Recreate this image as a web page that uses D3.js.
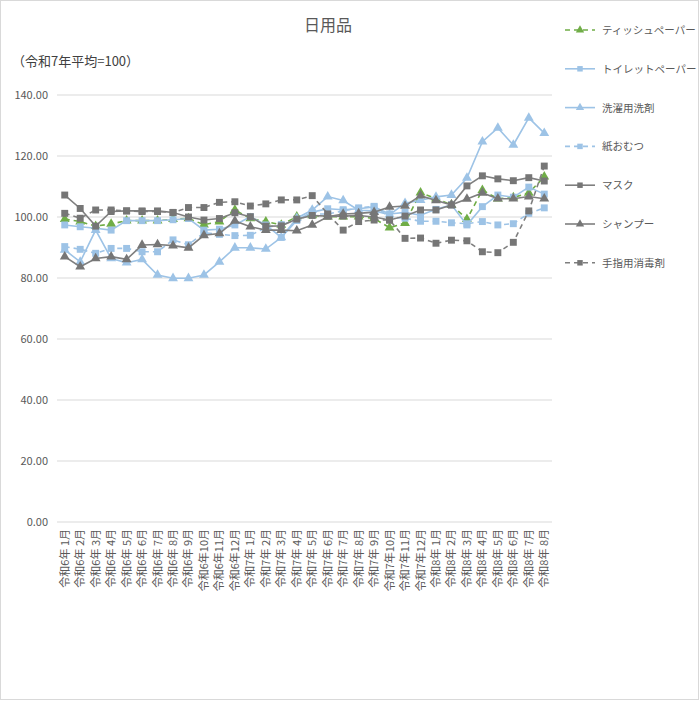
<!DOCTYPE html>
<html><head><meta charset="utf-8">
<script src="https://cdn.jsdelivr.net/npm/d3@7"></script>
<style>body{margin:0;background:#fff;font-family:"Noto Sans CJK JP","Noto Sans",sans-serif;}</style>
</head><body><div id="chart"></div>
<script>
const months = [];
[[6, 12], [7, 12], [8, 8]].forEach(([y, n]) => {
	for (let m = 1; m <= n; m++) months.push('令和' + y + '年' + (m < 10 ? ' ' : '') + m + '月');
});

const tissue = [99.3, 98.5, 97, 97.7, 98.8, 98.8, 98.8, 99.3, 99.5, 97.5, 98.5, 102.3, 99.5, 98.5, 97.4, 100.1, 100.5, 100.1, 100.1, 100.1, 99.5, 96.5, 98, 108, 106, 104, 99.3, 108.8, 106, 106.4, 107.9, 113.2];
const toilet = [97.4, 96.8, 96.3, 95.7, 98.8, 98.8, 98.8, 99.1, 99.5, 95.7, 96, 97.4, 100.1, 97.4, 93.3, 98.9, 101.6, 102.7, 102.4, 102.7, 103.3, 101, 101.5, 100.6, 102.5, 104, 97.4, 103.4, 107.2, 106.5, 109.8, 107.5];
const detergent = [89.2, 85.3, 95.7, 86.4, 85, 86.1, 81, 79.9, 79.9, 81, 85.3, 89.9, 89.9, 89.5, 93.3, 99.6, 102.3, 106.7, 105.4, 102.2, 102, 100.8, 104.5, 105.5, 106.6, 107.2, 112.8, 124.7, 129.2, 123.6, 132.5, 127.5];
const diaper = [90.3, 89.4, 88.1, 89.7, 89.7, 88.6, 88.6, 92.5, 90.9, 94.8, 94.3, 93.9, 94, 96.5, 97.5, 99, 101, 101, 102, 103, 103.5, 100, 99.6, 98.6, 98.6, 98.1, 97.8, 98.5, 97.4, 97.8, 101.2, 103];
const mask = [107.2, 102.8, 97, 101.8, 102, 102, 102, 101.5, 100, 99, 99.5, 101.4, 100.1, 97, 97.1, 99.3, 100.5, 100.3, 100.3, 100.5, 100, 99, 100.3, 102.3, 102.3, 103.9, 110.2, 113.5, 112.5, 111.9, 112.9, 111.8];
const shampoo = [87, 83.7, 86.4, 87, 86.1, 90.8, 91, 90.6, 89.9, 94, 94.6, 98.7, 96.8, 95.7, 95.7, 95.5, 97.4, 100.1, 101, 101.2, 101.6, 103.3, 103.6, 107, 105.4, 104, 105.9, 107.9, 106, 106, 106.7, 106];
const sanitizer = [101.2, 99.6, 102.3, 102.3, 102, 101.8, 101.8, 101.5, 103.1, 103.1, 104.8, 105, 103.6, 104.3, 105.6, 105.6, 107, 101, 95.7, 98.5, 99, 99, 93, 93.1, 91.4, 92.4, 92.2, 88.6, 88.3, 91.7, 102, 116.7];
const yTicks = [0, 20, 40, 60, 80, 100, 120, 140];

const green = '#70ad47', blue = '#9dc3e6', gray = '#7f7f7f';
const series = [
	{ name: 'ティッシュペーパー', values: tissue, color: green, dash: '5,4', marker: 'tri' },
	{ name: 'トイレットペーパー', values: toilet, color: blue, dash: null, marker: 'sq' },
	{ name: '洗濯用洗剤', values: detergent, color: blue, dash: null, marker: 'tri' },
	{ name: '紙おむつ', values: diaper, color: blue, dash: '5,4', marker: 'sq' },
	{ name: 'マスク', values: mask, color: gray, dash: null, marker: 'sq' },
	{ name: 'シャンプー', values: shampoo, color: gray, dash: null, marker: 'tri' },
	{ name: '手指用消毒剤', values: sanitizer, color: gray, dash: '5,4', marker: 'sq' },
];

const width = 700, height = 701;
const svg = d3.select('#chart').append('svg').attr('width', width).attr('height', height);
svg.append('rect').attr('x', 0.5).attr('y', 0.5).attr('width', width - 2).attr('height', height - 2)
	.attr('fill', 'none').attr('stroke', '#d9d9d9');

const x = d3.scaleBand().domain(months).range([57, 552]);
const y = d3.scaleLinear().domain([0, 140]).range([522, 95]);
const cx = (i) => x(months[i]) + x.bandwidth() / 2;

svg.append('text').attr('x', 328).attr('y', 31).attr('text-anchor', 'middle')
	.attr('fill', '#595959').style('font-size', '16px').text('日用品');
svg.append('text').attr('x', 12).attr('y', 66).attr('fill', '#404040')
	.style('font-size', '13px').text('（令和7年平均=100）');

svg.selectAll('.grid').data(yTicks).join('line').attr('class', 'grid')
	.attr('x1', 57).attr('x2', 552).attr('y1', (d) => y(d)).attr('y2', (d) => y(d))
	.attr('stroke', '#d9d9d9');
svg.selectAll('.ylab').data(yTicks).join('text').attr('class', 'ylab')
	.attr('x', 48).attr('y', (d) => y(d) + 4).attr('text-anchor', 'end')
	.attr('fill', '#595959').style('font-size', '11px').text((d) => d.toFixed(2));

svg.selectAll('.xlab').data(months).join('text').attr('class', 'xlab')
	.attr('transform', (d, i) => `translate(${cx(i) + 4},529) rotate(-90)`)
	.attr('text-anchor', 'end').attr('fill', '#595959').style('font-size', '11px').text((d) => d);

const line = d3.line().x((d, i) => cx(i)).y((d) => y(d));
const tri = d3.symbol().type(d3.symbolTriangle).size(42);
const sq = d3.symbol().type(d3.symbolSquare).size(48);

series.forEach((s) => {
	svg.append('path').datum(s.values).attr('d', line).attr('fill', 'none')
		.attr('stroke', s.color).attr('stroke-width', 1.6).attr('stroke-dasharray', s.dash);
	svg.selectAll(null).data(s.values).join('path')
		.attr('d', s.marker === 'tri' ? tri : sq)
		.attr('transform', (d, i) => `translate(${cx(i)},${y(d)})`)
		.attr('fill', s.color === gray ? '#767676' : s.color);
});

const legend = svg.selectAll('.leg').data(series).join('g').attr('class', 'leg')
	.attr('transform', (d, i) => `translate(565,${30 + i * 38.8})`);
legend.append('line').attr('x1', 0).attr('x2', 30).attr('stroke', (d) => d.color)
	.attr('stroke-width', 1.6).attr('stroke-dasharray', (d) => d.dash);
legend.append('path').attr('d', (d) => (d.marker === 'tri' ? tri.size(30)() : sq.size(30)()))
	.attr('transform', 'translate(15,0)').attr('fill', (d) => (d.color === gray ? '#767676' : d.color));
legend.append('text').attr('x', 37).attr('y', 4).attr('fill', '#595959')
	.style('font-size', '10.5px').text((d) => d.name);
</script></body></html>
